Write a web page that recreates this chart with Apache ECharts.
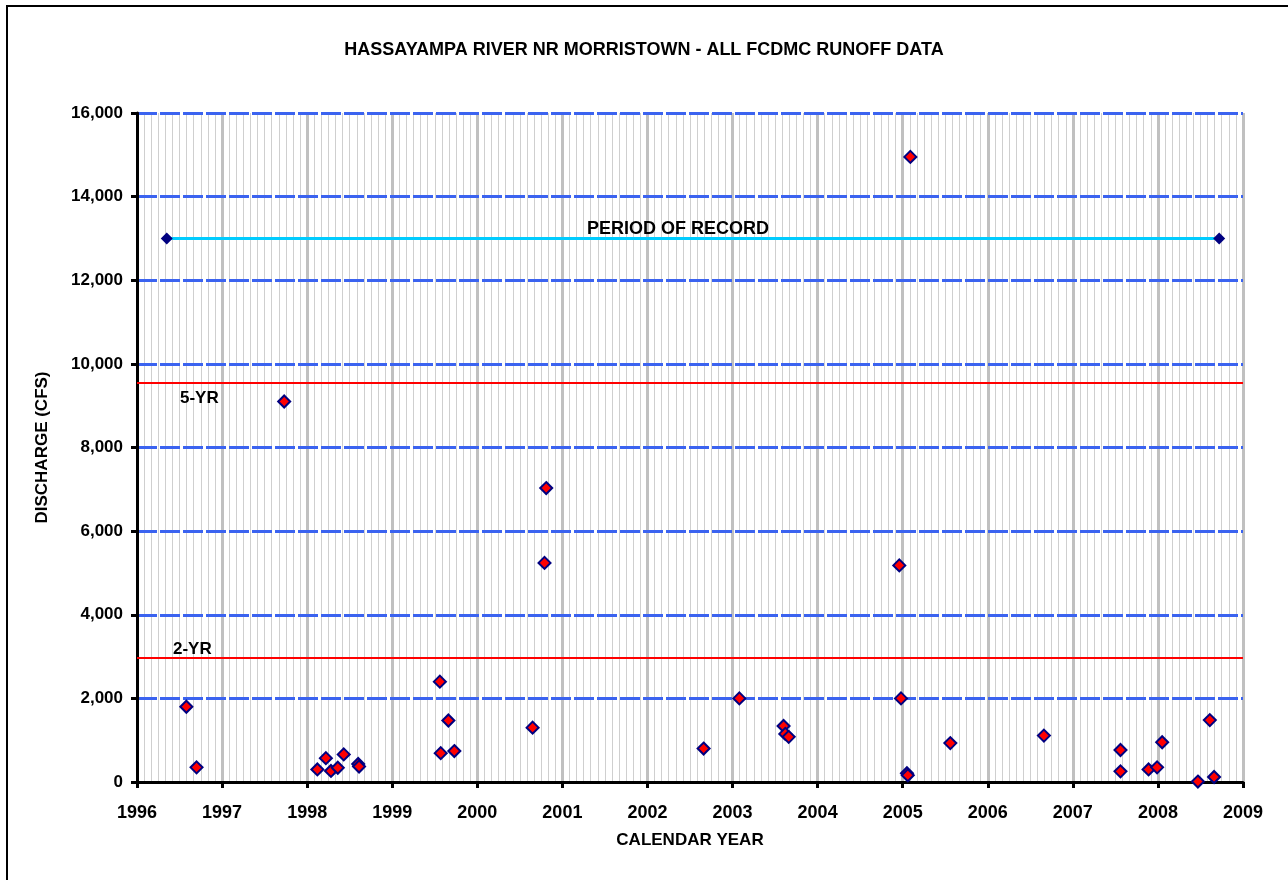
<!DOCTYPE html>
<html>
<head>
<meta charset="utf-8">
<script src="https://cdn.jsdelivr.net/npm/echarts@6/dist/echarts.min.js"></script>
<style>
  html, body { margin: 0; padding: 0; background: #fff; }
  #chart { width: 1288px; height: 880px; }
</style>
</head>
<body>
<div id="chart"></div>
<script>
// runoff events (decimal year, cfs)
var eventYears = [1996.58, 1996.70, 1997.73, 1998.12, 1998.22, 1998.28, 1998.36, 1998.43, 1998.60, 1998.61,
  1999.56, 1999.57, 1999.66, 1999.73, 2000.65, 2000.79, 2000.81, 2002.66, 2003.08,
  2003.60, 2003.62, 2003.66, 2004.96, 2004.98, 2005.05, 2005.06, 2005.09, 2005.56, 2006.66,
  2007.56, 2007.56, 2007.89, 2007.99, 2008.05, 2008.47, 2008.61, 2008.66];
var eventFlows = [1800, 350, 9100, 300, 570, 265, 340, 660, 430, 370,
  2400, 690, 1470, 740, 1300, 5240, 7030, 800, 2000,
  1340, 1150, 1080, 5180, 2000, 210, 160, 14950, 930, 1110,
  765, 255, 300, 350, 950, 10, 1480, 120];

var periodYears = [1996.35, 2008.72];
var periodLevel = 13000;
var periodLabelYear = 2002.36;
var fiveYear = 9550;
var twoYear = 2960;
var yearTicks = [1996, 2009];

var font = 'Liberation Sans, Arial, sans-serif';
var myChart = echarts.init(document.getElementById('chart'));

var option = {
  backgroundColor: '#fff',
  animation: false,
  title: {
    text: 'HASSAYAMPA RIVER NR MORRISTOWN - ALL FCDMC RUNOFF DATA',
    left: 'center',
    top: 36,
    textStyle: { fontFamily: font, fontSize: 18, fontWeight: 'bold', color: '#000' }
  },
  graphic: [{
    type: 'rect',
    shape: { x: 7, y: 6, width: 1320, height: 920 },
    style: { fill: 'none', stroke: '#000', lineWidth: 2 },
    silent: true
  }],
  grid: { left: 137, right: 45, top: 113, bottom: 98 },
  xAxis: {
    type: 'value',
    min: yearTicks[0],
    max: yearTicks[1],
    interval: 1,
    z: 2,
    name: 'CALENDAR YEAR',
    nameLocation: 'middle',
    nameGap: 50,
    nameTextStyle: { fontFamily: font, fontSize: 17, fontWeight: 'bold', color: '#000' },
    axisLine: { onZero: false, lineStyle: { color: '#000', width: 3 } },
    axisTick: { show: true, length: 6, lineStyle: { color: '#000', width: 3 } },
    axisLabel: {
      margin: 22,
      fontFamily: font, fontSize: 18, fontWeight: 'bold', color: '#000',
      formatter: function (v) { return String(v); }
    },
    splitLine: { show: true, lineStyle: { color: '#c0c0c0', width: 3 } },
    minorTick: { show: false, splitNumber: 12 },
    minorSplitLine: { show: true, lineStyle: { color: '#cfcfcf', width: 1 } }
  },
  yAxis: {
    type: 'value',
    min: 0,
    max: 16000,
    interval: 2000,
    z: 3,
    name: 'DISCHARGE (CFS)',
    nameLocation: 'middle',
    nameGap: 86,
    nameRotate: 90,
    nameTextStyle: { fontFamily: font, fontSize: 17, fontWeight: 'bold', color: '#000' },
    axisLine: { show: true, lineStyle: { color: '#000', width: 3 } },
    axisTick: { show: true, length: 6, lineStyle: { color: '#000', width: 3 } },
    axisLabel: { margin: 14, fontFamily: font, fontSize: 17, fontWeight: 'bold', color: '#000' },
    splitLine: { show: true, showMinLine: false, lineStyle: { color: '#3b63f0', width: 3, type: [20, 3] } }
  },
  series: [
    {
      name: 'limits',
      type: 'line',
      data: [],
      markLine: {
        silent: true,
        symbol: 'none',
        lineStyle: { color: '#ff0000', width: 2, type: 'solid' },
        label: {
          fontFamily: font, fontSize: 17, fontWeight: 'bold', color: '#000'
        },
        data: [
          { yAxis: fiveYear, label: { formatter: '5-YR', position: 'insideStartBottom', distance: [43, 7] } },
          { yAxis: twoYear, label: { formatter: '2-YR', position: 'insideStartTop', distance: [36, 0] } }
        ]
      },
      z: 5
    },
    {
      name: 'period',
      type: 'line',
      data: periodYears.map(function (y) { return [y, periodLevel]; }),
      symbol: 'diamond',
      symbolSize: 12,
      showAllSymbol: true,
      lineStyle: { color: '#00ccff', width: 3 },
      itemStyle: { color: '#000080' },
      z: 5
    },
    {
      name: 'periodLabel',
      type: 'scatter',
      data: [[periodLabelYear, periodLevel]],
      symbolSize: 1,
      itemStyle: { color: 'rgba(0,0,0,0)', opacity: 1 },
      label: {
        show: true,
        position: 'top',
        distance: 0,
        formatter: 'PERIOD OF RECORD',
        fontFamily: font, fontSize: 18, fontWeight: 'bold', color: '#000'
      },
      z: 5
    },
    {
      name: 'events',
      type: 'scatter',
      data: eventYears.map(function (y, i) { return [y, eventFlows[i]]; }),
      symbol: 'diamond',
      symbolSize: 12,
      itemStyle: { color: '#ff0000', borderColor: '#000080', borderWidth: 2, opacity: 1 },
      z: 6
    }
  ]
};
myChart.setOption(option);
</script>
</body>
</html>
